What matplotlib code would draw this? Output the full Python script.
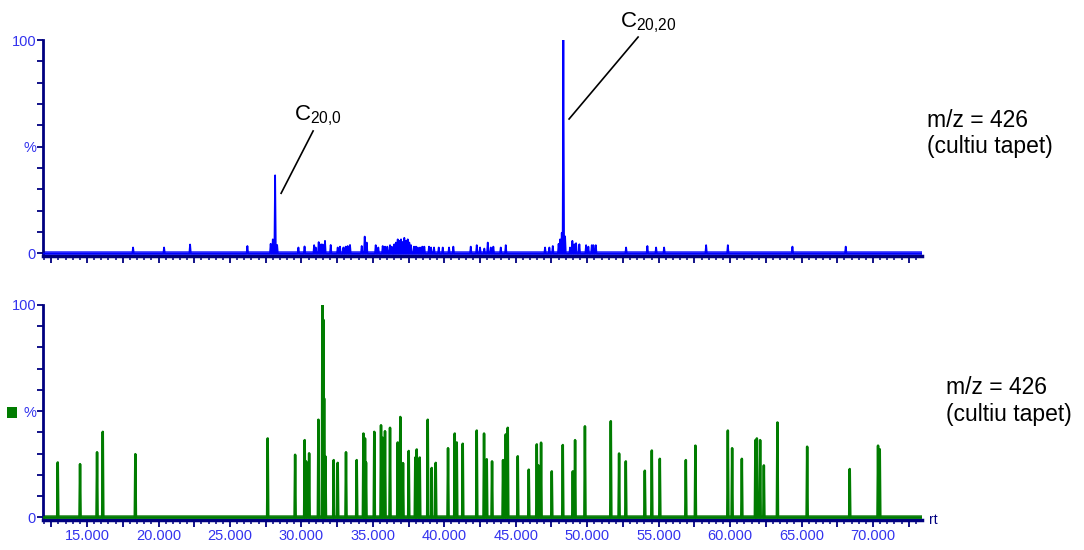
import matplotlib
matplotlib.use('Agg')
import matplotlib.pyplot as plt
import numpy as np
from matplotlib.ticker import MultipleLocator, FuncFormatter
from matplotlib.patches import Rectangle

plt.rcParams['font.family'] = ['Liberation Sans', 'DejaVu Sans']
plt.rcParams['mathtext.fontset'] = 'custom'
plt.rcParams['mathtext.rm'] = 'Liberation Sans'
plt.rcParams['mathtext.it'] = 'Liberation Sans:italic'

# top trace: retention time (min) and relative intensity (%)
top_rt = [18.22, 20.39, 22.21, 26.22, 27.85, 28.00, 28.16, 28.30, 29.79, 30.22, 30.89, 31.00,
          31.21, 31.38, 31.49, 31.65, 32.05, 32.54, 32.70, 32.94, 33.10, 33.24, 33.40,
          34.22, 34.43, 34.57, 35.20, 35.38, 35.69, 35.85, 36.01, 36.20, 36.32, 36.50,
          36.62, 36.74, 36.85, 36.97, 37.09, 37.20, 37.32, 37.44, 37.55, 37.67, 37.88,
          38.02, 38.14, 38.30, 38.46, 38.60, 38.93, 39.07, 39.28, 39.61, 39.89, 40.33,
          40.63, 41.85, 42.27, 42.50, 42.80, 43.04, 43.25, 43.43, 43.95, 44.30, 47.05,
          47.35, 47.59, 48.00, 48.10, 48.22, 48.33, 48.45, 48.80, 48.96, 49.10, 49.22,
          49.45, 49.92, 50.08, 50.32, 50.43, 50.60, 52.72, 54.21, 54.82, 55.38, 58.32,
          59.84, 64.36, 68.09]
top_int = [2.8, 2.8, 4.2, 3.5, 4.5, 6.6, 36.6, 4.0, 2.8, 3.3, 3.9, 2.8,
           5.3, 4.3, 4.2, 5.9, 4.0, 2.8, 3.2, 2.8, 3.2, 3.5, 4.0,
           3.5, 7.9, 5.1, 3.9, 2.8, 3.5, 3.2, 3.2, 3.9, 3.2, 4.3,
           5.1, 6.6, 5.9, 6.6, 5.4, 7.3, 5.9, 6.6, 5.1, 3.9, 3.2,
           3.2, 2.8, 2.8, 3.2, 3.2, 3.2, 2.8, 2.8, 2.8, 2.8, 2.8,
           3.2, 3.2, 3.9, 2.8, 2.3, 5.1, 2.8, 3.2, 2.8, 3.9, 2.8,
           2.8, 3.5, 4.5, 6.6, 9.7, 100.0, 8.0, 2.8, 5.9, 4.3, 4.8,
           4.3, 3.9, 3.2, 3.9, 3.9, 3.9, 2.8, 3.5, 2.8, 2.8, 3.9,
           3.9, 3.2, 3.2]

# bottom trace
bot_rt = [12.95, 14.51, 15.70, 16.10, 18.38, 27.64, 29.56, 30.23, 30.33, 30.54, 31.19,
          31.47, 31.54, 31.59, 31.68, 32.26, 32.54, 33.12, 33.87, 34.34, 34.45, 34.52,
          35.10, 35.57, 35.69, 35.85, 36.20, 36.74, 36.92, 37.02, 37.11, 37.51, 37.97,
          38.07, 38.18, 38.28, 38.84, 39.12, 39.40, 40.26, 40.73, 40.87, 41.29, 42.27,
          42.78, 42.97, 43.34, 44.11, 44.30, 44.44, 45.14, 45.91, 46.47, 46.58, 46.77,
          47.52, 48.29, 48.99, 49.15, 49.84, 51.65, 52.23, 52.70, 54.03, 54.52, 55.08,
          56.90, 57.57, 59.84, 60.14, 60.82, 61.77, 61.87, 62.10, 62.36, 63.31, 65.39,
          68.37, 70.35, 70.47]
bot_int = [25.9, 25.1, 30.7, 40.3, 29.8, 37.2, 29.5, 36.4, 26.4, 30.2, 46.0,
           100.0, 93.0, 56.0, 28.7, 27.0, 25.7, 30.7, 27.0, 39.5, 37.2, 25.9,
           40.3, 43.4, 37.5, 40.6, 42.2, 35.3, 47.3, 23.3, 25.6, 31.3, 28.2,
           32.0, 24.0, 28.2, 46.0, 23.3, 25.7, 32.6, 39.5, 35.3, 34.7, 40.9,
           39.5, 27.4, 26.4, 27.0, 39.1, 42.2, 28.8, 22.5, 34.4, 24.5, 35.2,
           21.7, 34.1, 21.7, 36.4, 42.9, 45.3, 30.1, 26.4, 22.0, 31.5, 27.6,
           27.0, 33.8, 40.9, 32.6, 27.6, 36.4, 37.2, 36.4, 24.5, 44.7, 33.3,
           22.8, 33.8, 32.1]

label_text = "m/z = 426\n(cultiu tapet)"
navy = '#000080'
tick_blue = '#3333ee'


def spectrum(rts, ints, hw):
  xs = [11.0]
  ys = [0.0]
  for rt, h in sorted(zip(rts, ints)):
    xs += [rt - hw, rt, rt + hw]
    ys += [0.0, h, 0.0]
  xs.append(75.0)
  ys.append(0.0)
  return np.array(xs), np.array(ys)


def xfmt(v, pos):
  if abs(v / 5.0 - round(v / 5.0)) < 1e-6:
    return "{:.3f}".format(v)
  return ""


def style_axes(ax, show_labels, base_color):
  ax.set_xlim(11.92, 73.43)
  ax.set_ylim(-1.2, 100)
  for s in ['top', 'right']:
    ax.spines[s].set_visible(False)
  ax.spines['left'].set_color(navy)
  ax.spines['left'].set_linewidth(2)
  ax.spines['bottom'].set_color(navy)
  ax.spines['bottom'].set_linewidth(2.5)
  ax.xaxis.set_major_locator(MultipleLocator(2.5))
  ax.xaxis.set_minor_locator(MultipleLocator(0.5))
  ax.xaxis.set_major_formatter(FuncFormatter(xfmt))
  ax.tick_params(axis='x', which='major', length=5, width=1.3, color=navy,
                 labelsize=10.5, labelcolor=tick_blue, pad=1.5, labelbottom=show_labels)
  ax.tick_params(axis='x', which='minor', length=3, width=1.1, color=navy)
  ax.set_yticks([0, 50, 100])
  ax.set_yticklabels(['0', '%', '100'])
  ax.yaxis.set_minor_locator(MultipleLocator(10))
  ax.tick_params(axis='y', which='both', length=4, width=1.3, color=navy,
                 labelsize=10.5, labelcolor=tick_blue, pad=1)
  ax.axhline(0, color=base_color, lw=3.5, zorder=1)


fig = plt.figure(figsize=(10.84, 5.5), dpi=100)
ax1 = fig.add_axes([0.0397, 0.5345, 0.8109, 0.3927])
ax2 = fig.add_axes([0.0397, 0.0545, 0.8109, 0.391])

style_axes(ax1, False, '#4848ff')
style_axes(ax2, True, '#4a9a4a')

x, y = spectrum(top_rt, top_int, 0.05)
ax1.plot(x, y, color='#0000ff', lw=1.3, zorder=3)

x, y = spectrum(bot_rt, bot_int, 0.04)
ax2.plot(x, y, color='#007c00', lw=1.8, zorder=3)

# peak annotations
ax1.plot([28.58, 30.82], [28.2, 57.4], color='black', lw=1.2, clip_on=False)
ax1.text(31.15, 64.5, r"C$_{20{,}0}$", fontsize=16, ha='center', va='center', clip_on=False)
ax1.plot([48.73, 53.56], [63.0, 101.4], color='black', lw=1.2, clip_on=False)
ax1.text(54.3, 108.0, r"C$_{20{,}20}$", fontsize=16, ha='center', va='center', clip_on=False)

fig.text(0.855, 0.802, label_text, fontsize=16.5, ha='left', va='top', linespacing=1.2)
fig.text(0.873, 0.316, label_text, fontsize=16.5, ha='left', va='top', linespacing=1.2)

ax2.text(1.008, -1.2, "rt", transform=ax2.get_yaxis_transform(), fontsize=10,
         color=navy, ha='left', va='center', clip_on=False)

fig.patches.append(Rectangle((0.0065, 0.24), 0.0095, 0.02, transform=fig.transFigure,
                             facecolor='#007c00', edgecolor='none'))

fig.savefig("out.png", dpi=100)
